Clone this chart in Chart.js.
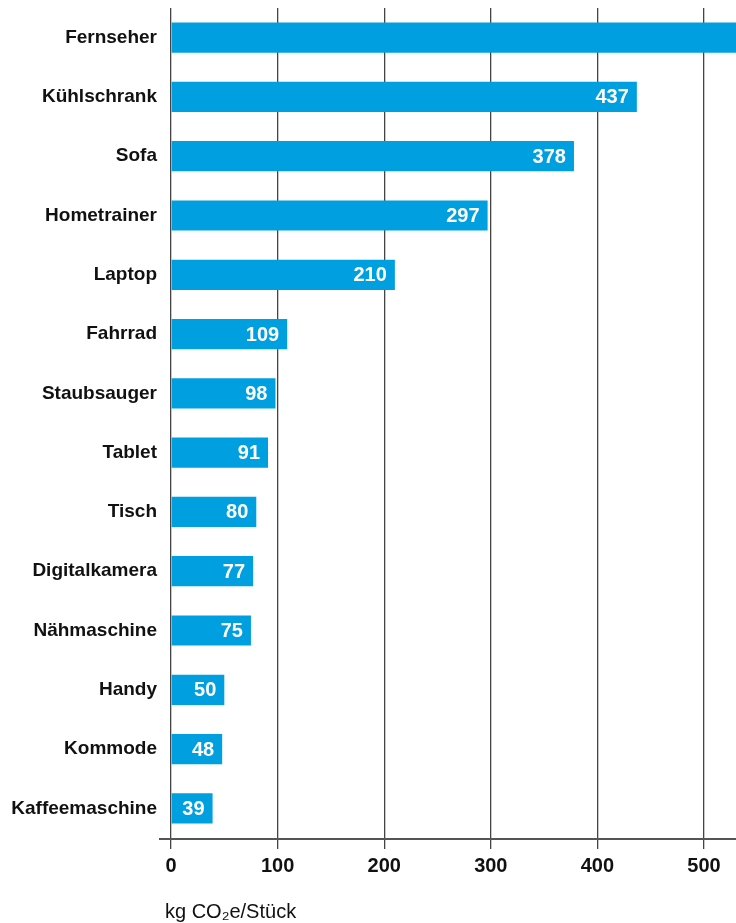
<!DOCTYPE html>
<html><head><meta charset="utf-8">
<script src="https://cdn.jsdelivr.net/npm/chart.js@4"></script>
<style>html,body{margin:0;padding:0;background:#fff}#wrap{width:736px;height:923px;position:relative}</style>
</head><body><div id="wrap"><canvas id="c"></canvas></div>
<script>
const categories = ["Fernseher","Kühlschrank","Sofa","Hometrainer","Laptop","Fahrrad","Staubsauger","Tablet","Tisch","Digitalkamera","Nähmaschine","Handy","Kommode","Kaffeemaschine"];
const values = [560,437,378,297,210,109,98,91,80,77,75,50,48,39];
const xTicks = [0,100,200,300,400,500];
const axisTitle = 'kg CO₂e/Stück';
const FONT = "'Liberation Sans', Arial, sans-serif";

const valueLabels = {
  id:'valueLabels',
  afterDatasetsDraw(chart){
    const ctx = chart.ctx, meta = chart.getDatasetMeta(0), a = chart.chartArea;
    ctx.save();
    ctx.font = "bold 20px " + FONT;
    ctx.fillStyle = '#fff';
    ctx.textAlign = 'right';
    ctx.textBaseline = 'middle';
    meta.data.forEach((bar,i)=>{
      if (bar.x > a.right) return;
      ctx.fillText(String(values[i]), bar.x - 8, bar.y + 1);
    });
    ctx.restore();
  }
};
const axisLine = {
  id:'axisLine',
  afterDraw(chart){
    const ctx = chart.ctx, a = chart.chartArea;
    ctx.save();
    ctx.strokeStyle = '#555';
    ctx.lineWidth = 2;
    ctx.beginPath();
    ctx.moveTo(159, a.bottom + 1);
    ctx.lineTo(736, a.bottom + 1);
    ctx.stroke();
    ctx.font = "20px " + FONT;
    ctx.fillStyle = '#111';
    ctx.textAlign = 'left';
    ctx.textBaseline = 'middle';
    ctx.fillText(axisTitle, 165, 912);
    ctx.restore();
  }
};

new Chart(document.getElementById('c'), {
  type:'bar',
  data:{labels:categories, datasets:[{data:values, backgroundColor:'#009FE0', barPercentage:0.51, categoryPercentage:1}]},
  options:{
    indexAxis:'y', responsive:true, maintainAspectRatio:false, animation:false,
    layout:{padding:{top:8,right:0,left:0,bottom:0}},
    plugins:{legend:{display:false}, tooltip:{enabled:false}},
    scales:{
      x:{
        min:0, max:530,
        afterBuildTicks(s){ s.ticks = xTicks.map(v=>({value:v})); },
        grid:{color:'#444', lineWidth:1.3, tickLength:11, drawTicks:true},
        border:{display:false},
        ticks:{color:'#111', font:{family:FONT, size:20, weight:'bold'}, padding:5, maxRotation:0},
        afterFit(s){ s.height = 85; s.paddingLeft = 0; s.paddingRight = 0; }
      },
      y:{
        grid:{display:false, drawTicks:false},
        border:{display:false},
        ticks:{color:'#111', font:{family:FONT, size:19, weight:'bold'}, padding:14},
        afterFit(s){ s.width = 171; s.paddingTop = 0; s.paddingBottom = 0; }
      }
    }
  },
  plugins:[valueLabels, axisLine]
});
</script></body></html>
